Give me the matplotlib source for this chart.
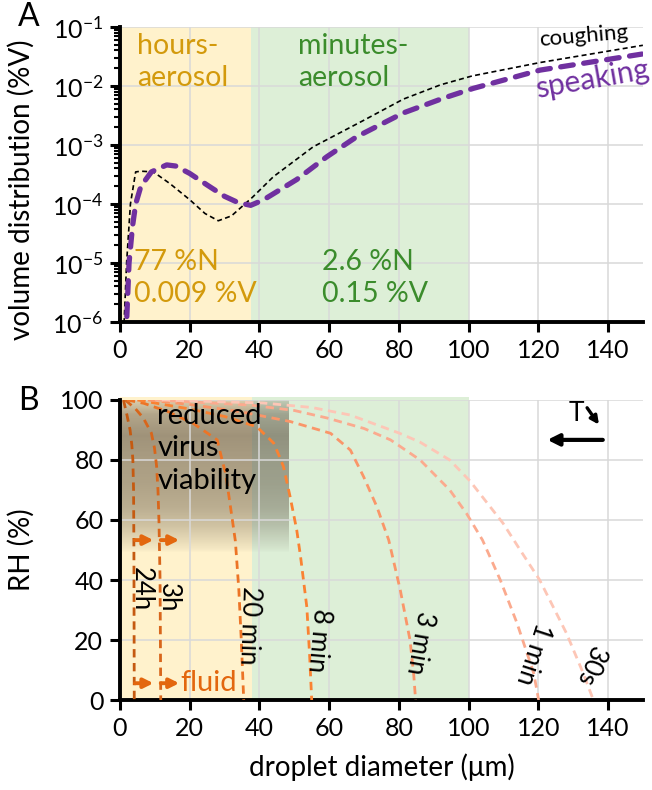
import matplotlib
matplotlib.use("Agg")
import matplotlib.pyplot as plt
import numpy as np
from matplotlib.ticker import FuncFormatter, LogLocator, NullFormatter

plt.rcParams['font.family'] = ['Lato', 'DejaVu Sans']
plt.rcParams['mathtext.fontset'] = 'custom'
plt.rcParams['mathtext.rm'] = 'Lato'

# ---- panel A data: volume distribution vs droplet diameter
d_speak = [1.7, 1.9, 2.6, 3.6, 4.5, 6.0, 9.0, 13.4, 16.0, 20.0, 25.0, 30.0, 34.0,
           37.5, 41.1, 50.7, 59.3, 67.9, 74.6, 81.3, 92.7, 101.3, 120.5, 150.0]
v_speak = [5e-7, 1e-6, 1e-5, 4.2e-5, 1e-4, 2e-4, 3.5e-4, 4.6e-4, 4.4e-4, 3.3e-4, 2.1e-4,
           1.35e-4, 1.05e-4, 9.5e-5, 1.17e-4, 2.6e-4, 6.3e-4, 1.38e-3, 2.2e-3, 3.5e-3,
           6.2e-3, 9.1e-3, 1.86e-2, 3.5e-2]

d_cough = [1.0, 1.2, 1.9, 3.0, 4.5, 6.0, 9.6, 14.4, 20.1, 24.4, 28.2, 32.0, 35.4,
           38.0, 44.0, 55.4, 69.8, 81.3, 92.0, 101.0, 120.5, 150.0]
v_cough = [5e-7, 1e-6, 1e-5, 1e-4, 3.5e-4, 3.6e-4, 3.5e-4, 2.2e-4, 1.17e-4, 6.9e-5,
           5.2e-5, 6.3e-5, 9.5e-5, 1.3e-4, 2.9e-4, 9.3e-4, 2.6e-3, 6.0e-3, 1.05e-2,
           1.48e-2, 2.5e-2, 4.9e-2]

# ---- panel B data: RH vs droplet diameter, one curve per settling time
curves = {
    '24h':    ([1.0, 2.0, 2.9, 3.4, 3.7, 3.9, 4.0, 4.1],
               [100, 95, 90, 85, 80, 70, 50, 0]),
    '3h':     ([1.5, 4.5, 6.7, 9.0, 9.9, 10.5, 10.9, 11.2, 11.5, 11.7],
               [100, 97, 94, 89, 84, 78, 70, 59, 40, 0]),
    '20 min': ([2.0, 6.8, 14.0, 21.0, 27.9, 29.3, 30.3, 31.7, 33.1, 34.1, 34.8, 35.5],
               [100, 98.9, 96, 92.2, 86.7, 80, 75.6, 64.4, 53, 36.7, 20, 0]),
    '8 min':  ([5.0, 20.0, 30.0, 39.2, 42.0, 44.1, 45.8, 46.9, 48.8, 50.7, 51.8, 53.6, 54.4, 55.0],
               [100, 97, 94.5, 91.1, 88, 85.6, 81, 77.8, 67.8, 56.7, 47.8, 31, 15, 0]),
    '3 min':  ([8.0, 20.0, 35.0, 48.9, 60.4, 66.1, 69.9, 73.7, 77.1, 80.4, 83.2, 84.3, 84.8],
               [100, 98.5, 96, 92.8, 88.9, 83.3, 74.4, 64.4, 53.3, 36.7, 20, 8, 0]),
    '1 min':  ([10.0, 37.4, 50.0, 59.4, 70.0, 77.6, 86.1, 94.6, 99.4, 104.0, 109.1, 113.9, 118.7, 120.1],
               [100, 98.3, 96.5, 94, 90.5, 86.7, 80, 70, 62.2, 53.3, 40, 25.6, 8.9, 0]),
    '30s':    ([12.0, 41.0, 55.0, 66.0, 80.0, 86.0, 94.6, 100.4, 109.9, 114.8, 120.4, 128.1, 132.9, 135.8],
               [100, 99, 97.5, 95, 89, 86, 80, 73, 58.9, 50, 40, 22.2, 8.9, 0]),
}
curve_colors = {'24h': '#C55A11', '3h': '#D8661B', '20 min': '#EC7426', '8 min': '#FA8232',
                '3 min': '#FA9669', '1 min': '#FBAA8E', '30s': '#FDC6B6'}
# label position (diameter, RH) and rotation
curve_labels = {'24h': (6.0, 37, -90), '3h': (14.0, 34, -90), '20 min': (37.0, 25, -92),
                '8 min': (57.0, 20, -95), '3 min': (86.0, 19, -100),
                '1 min': (118.6, 15.5, -108), '30s': (134.8, 11.5, -112)}

yellow = '#FFF2CC'
green = '#DDEFD7'
gold = '#D39A0C'
dgreen = '#3B8C2C'
purple = '#7030A0'
orange = '#E3670E'
gridc = '#D9D9D9'

fig = plt.figure(figsize=(6.52, 7.9), dpi=100)
axA = fig.add_axes([0.184, 0.5924, 0.802, 0.3734])
axB = fig.add_axes([0.184, 0.1139, 0.802, 0.3798])

for ax in (axA, axB):
    ax.set_axisbelow(True)
    ax.spines['top'].set_visible(False)
    ax.spines['right'].set_visible(False)
    ax.spines['left'].set_linewidth(2.8)
    ax.spines['bottom'].set_linewidth(2.8)
    ax.set_xlim(0, 150)
    ax.set_xticks(np.arange(0, 141, 20))
    ax.grid(True, color=gridc, lw=1.1)
    ax.tick_params(axis='both', which='major', labelsize=18, length=7, width=2.2,
                   color='black', pad=5)

# ---------------- panel A
axA.set_yscale('log')
axA.set_ylim(1e-6, 1e-1)
axA.axvspan(0, 37.5, color=yellow, lw=0, zorder=0)
axA.axvspan(37.5, 100, color=green, lw=0, zorder=0)
axA.plot(d_cough, v_cough, color='black', lw=1.2, ls=(0, (3, 2)), zorder=3)
axA.plot(d_speak, v_speak, color=purple, lw=3.8, ls=(0, (2.4, 2.0)),
         dash_capstyle='round', zorder=4)
axA.yaxis.set_major_locator(LogLocator(base=10, numticks=10))
axA.yaxis.set_minor_locator(LogLocator(base=10, subs=np.arange(2, 10), numticks=20))
axA.yaxis.set_minor_formatter(NullFormatter())
axA.yaxis.set_major_formatter(FuncFormatter(
    lambda v, p: r'$\mathregular{10^{%d}}$' % int(round(np.log10(v)))))
axA.tick_params(axis='y', which='minor', length=4, width=1.5)
axA.tick_params(axis='x', which='minor', bottom=False)
axA.set_ylabel('volume distribution (%V)', fontsize=20)
axA.yaxis.set_label_coords(-0.163, 0.45)

axA.text(4.8, 0.078, 'hours-\naerosol', color=gold, fontsize=20.5, va='top', ha='left',
         linespacing=1.25)
axA.text(51.0, 0.078, 'minutes-\naerosol', color=dgreen, fontsize=20.5, va='top', ha='left',
         linespacing=1.25)
axA.text(4.0, 1.75e-5, '77 %N\n0.009 %V', color=gold, fontsize=20.5, va='top', ha='left',
         linespacing=1.3)
axA.text(58.0, 1.75e-5, '2.6 %N\n0.15 %V', color=dgreen, fontsize=20.5, va='top', ha='left',
         linespacing=1.3)
axA.text(133.0, 0.07, 'coughing', color='black', fontsize=16, ha='center', va='center',
         rotation=5)
axA.text(135.5, 0.0132, 'speaking', color=purple, fontsize=21.5, ha='center', va='center',
         rotation=10)

# ---------------- panel B
axB.set_ylim(0, 100)
axB.set_yticks(np.arange(0, 101, 20))
axB.axvspan(0, 38, ymax=1.01, color=yellow, lw=0, zorder=0, clip_on=False)
axB.axvspan(38, 100, ymax=1.01, color=green, lw=0, zorder=0, clip_on=False)

# "reduced virus viability" shaded band with vertical fade
ys = np.linspace(100, 49, 200)
alpha = np.interp(ys, [49, 50, 53, 58, 64, 72, 80, 88, 95, 100],
                  [0.0, 0.05, 0.14, 0.28, 0.4, 0.47, 0.5, 0.56, 0.45, 0.2])
img = np.zeros((len(ys), 1, 4))
img[..., 0] = 0.33
img[..., 1] = 0.28
img[..., 2] = 0.22
img[:, 0, 3] = alpha
axB.imshow(img, extent=(0, 48.3, 49, 100), aspect='auto', zorder=0.3,
           interpolation='bilinear')
axB.set_xlim(0, 150)
axB.set_ylim(0, 100)

for name, (dd, rh) in curves.items():
    axB.plot(dd, rh, color=curve_colors[name], lw=2.0, ls=(0, (3, 2)), zorder=3)
    lx, ly, rot = curve_labels[name]
    axB.text(lx, ly, name, fontsize=18.5, rotation=rot, ha='center', va='center',
             rotation_mode='anchor', zorder=5)

axB.text(10.7, 99.0, 'reduced\nvirus\nviability', fontsize=21, va='top', ha='left',
         linespacing=1.3, zorder=5)

arrow_kw = dict(arrowstyle='-|>', color=orange, lw=2.8, mutation_scale=14,
                shrinkA=0, shrinkB=0)
for y0 in (53.3, 5.6):
    axB.annotate('', xy=(9.6, y0), xytext=(4.3, y0), arrowprops=arrow_kw, zorder=6)
    axB.annotate('', xy=(17.0, y0), xytext=(11.7, y0), arrowprops=arrow_kw, zorder=6)
axB.text(17.2, 5.6, 'fluid', color=orange, fontsize=21, va='center', ha='left')

axB.text(131.0, 95.5, 'T', fontsize=19, ha='center', va='center')
axB.annotate('', xy=(137.4, 91.8), xytext=(134.0, 97.4),
             arrowprops=dict(arrowstyle='-|>', color='black', lw=2.4, mutation_scale=12,
                             shrinkA=0, shrinkB=0))
axB.annotate('', xy=(122.6, 86.7), xytext=(138.5, 86.7),
             arrowprops=dict(arrowstyle='-|>', color='black', lw=3.0, mutation_scale=17,
                             shrinkA=0, shrinkB=0))

axB.set_ylabel('RH (%)', fontsize=20)
axB.yaxis.set_label_coords(-0.163, 0.5)
axB.set_xlabel('droplet diameter (\u03bcm)', fontsize=20, labelpad=10)

fig.text(0.028, 0.978, 'A', fontsize=23, va='center', ha='left')
fig.text(0.028, 0.493, 'B', fontsize=23, va='center', ha='left')

fig.savefig('out.png', dpi=100)
